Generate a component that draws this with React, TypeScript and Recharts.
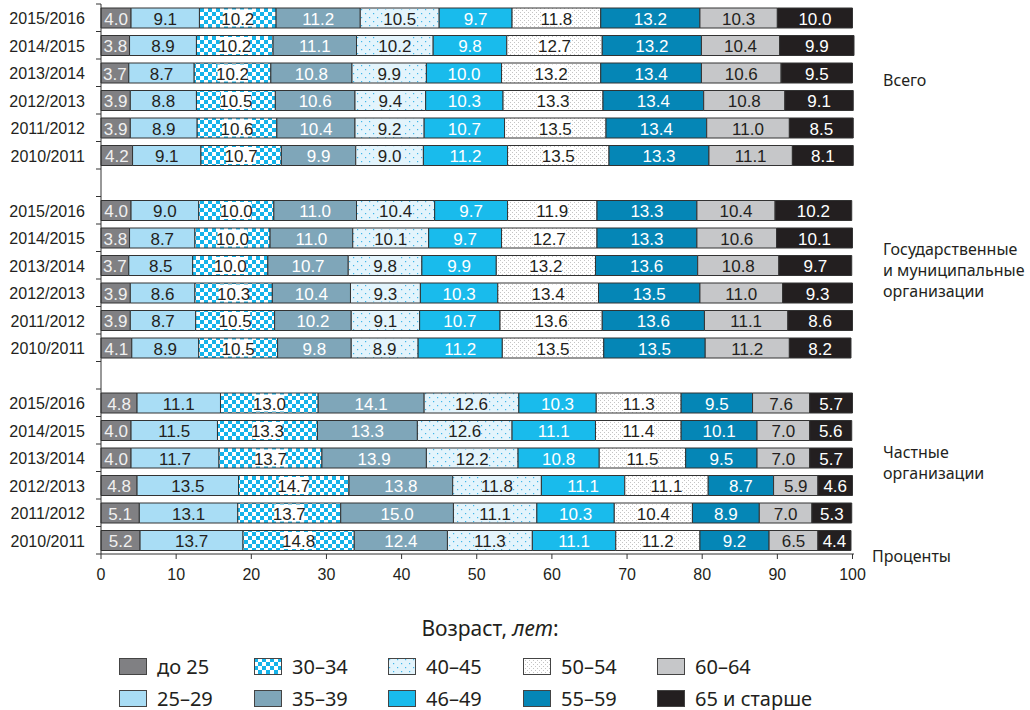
import { Bar, BarChart, LabelList, XAxis, YAxis } from 'recharts';

// Доля преподавателей по возрастным группам, % (сумма по строке = 100)
const years = ['2015/2016', '2014/2015', '2013/2014', '2012/2013', '2011/2012', '2010/2011'];
const ageGroups = ['до 25', '25–29', '30–34', '35–39', '40–45', '46–49', '50–54', '55–59', '60–64', '65 и старше'];

const totalShares = [
  [4.0, 9.1, 10.2, 11.2, 10.5, 9.7, 11.8, 13.2, 10.3, 10.0],
  [3.8, 8.9, 10.2, 11.1, 10.2, 9.8, 12.7, 13.2, 10.4, 9.9],
  [3.7, 8.7, 10.2, 10.8, 9.9, 10.0, 13.2, 13.4, 10.6, 9.5],
  [3.9, 8.8, 10.5, 10.6, 9.4, 10.3, 13.3, 13.4, 10.8, 9.1],
  [3.9, 8.9, 10.6, 10.4, 9.2, 10.7, 13.5, 13.4, 11.0, 8.5],
  [4.2, 9.1, 10.7, 9.9, 9.0, 11.2, 13.5, 13.3, 11.1, 8.1],
];
const publicShares = [
  [4.0, 9.0, 10.0, 11.0, 10.4, 9.7, 11.9, 13.3, 10.4, 10.2],
  [3.8, 8.7, 10.0, 11.0, 10.1, 9.7, 12.7, 13.3, 10.6, 10.1],
  [3.7, 8.5, 10.0, 10.7, 9.8, 9.9, 13.2, 13.6, 10.8, 9.7],
  [3.9, 8.6, 10.3, 10.4, 9.3, 10.3, 13.4, 13.5, 11.0, 9.3],
  [3.9, 8.7, 10.5, 10.2, 9.1, 10.7, 13.6, 13.6, 11.1, 8.6],
  [4.1, 8.9, 10.5, 9.8, 8.9, 11.2, 13.5, 13.5, 11.2, 8.2],
];
const privateShares = [
  [4.8, 11.1, 13.0, 14.1, 12.6, 10.3, 11.3, 9.5, 7.6, 5.7],
  [4.0, 11.5, 13.3, 13.3, 12.6, 11.1, 11.4, 10.1, 7.0, 5.6],
  [4.0, 11.7, 13.7, 13.9, 12.2, 10.8, 11.5, 9.5, 7.0, 5.7],
  [4.8, 13.5, 14.7, 13.8, 11.8, 11.1, 11.1, 8.7, 5.9, 4.6],
  [5.1, 13.1, 13.7, 15.0, 11.1, 10.3, 10.4, 8.9, 7.0, 5.3],
  [5.2, 13.7, 14.8, 12.4, 11.3, 11.1, 11.2, 9.2, 6.5, 4.4],
];
const xTicks = [0, 10, 20, 30, 40, 50, 60, 70, 80, 90, 100];

// one empty row between the three blocks
const rows: Record<string, any>[] = [];
[totalShares, publicShares, privateShares].forEach((block, b) => {
  if (b > 0) rows.push({ key: `gap${b}`, year: '' });
  block.forEach((vals, i) => {
    const row: Record<string, any> = { key: `${b}|${years[i]}`, year: years[i] };
    vals.forEach((v, j) => (row[`s${j}`] = v));
    rows.push(row);
  });
});

const W = 1030;
const H = 710;
const MARGIN = { top: 4, right: 176, left: 0, bottom: 126 };
const X_AXIS_H = 30;
const Y_AXIS_W = 101;
const BAND = (H - MARGIN.top - MARGIN.bottom - X_AXIS_H) / rows.length;

const NUM_FONT = "'Liberation Sans', Arial, sans-serif";
const LABEL_FONT = "'Liberation Sans Narrow', 'Liberation Sans', Arial, sans-serif";
const TEXT_FONT = "'Noto Sans', 'Open Sans', sans-serif";
const INK = '#231f20';

const segStyles: { fill: string; text: string; box?: string }[] = [
  { fill: '#808083', text: '#f0f0f0' },
  { fill: '#a9ddf5', text: INK },
  { fill: 'url(#chk)', text: INK, box: '#ffffff' },
  { fill: '#7fa6b9', text: '#ffffff' },
  { fill: 'url(#dotBlue)', text: INK, box: '#e3f4fc' },
  { fill: '#19bbec', text: '#ffffff' },
  { fill: 'url(#dotGrey)', text: INK, box: '#ffffff' },
  { fill: '#0586b6', text: '#ffffff' },
  { fill: '#c6c7c9', text: INK },
  { fill: INK, text: '#ffffff' },
];

const makeLabel = (idx: number) => (props: any) => {
  const { x, y, width, height, value } = props;
  if (value == null || !width) return null;
  const cx = x + width / 2;
  const st = segStyles[idx];
  return (
    <g>
      {st.box && <rect x={cx - 15} y={y + 1.5} width={30} height={height - 3} fill={st.box} />}
      <text
        x={cx}
        y={y + height / 2 + 1}
        textAnchor="middle"
        dominantBaseline="central"
        fill={st.text}
        fontSize={17}
        fontFamily={LABEL_FONT}
      >
        {Number(value).toFixed(1)}
      </text>
    </g>
  );
};

// tick marks sit on band edges, not centres
const YTick = (props: any) => {
  const { x, y, payload, index } = props;
  const row = rows.find(r => r.key === payload.value);
  const half = BAND / 2;
  return (
    <g>
      <line x1={x - 5} x2={x} y1={y - half} y2={y - half} stroke="#333" />
      {index === rows.length - 1 && <line x1={x - 5} x2={x} y1={y + half} y2={y + half} stroke="#333" />}
      <text x={x - 16} y={y + 1} textAnchor="end" dominantBaseline="central" fill={INK} fontSize={16} fontFamily={NUM_FONT}>
        {row ? row.year : ''}
      </text>
    </g>
  );
};

const Patterns = () => (
  <svg width={0} height={0} style={{ position: 'absolute' }}>
    <defs>
      <pattern id="chk" width={8} height={8} patternUnits="userSpaceOnUse">
        <rect width={8} height={8} fill="#ffffff" />
        <rect width={4} height={4} fill="#14b3ea" />
        <rect x={4} y={4} width={4} height={4} fill="#14b3ea" />
      </pattern>
      <pattern id="dotBlue" width={8} height={8} patternUnits="userSpaceOnUse">
        <rect width={8} height={8} fill="#e3f4fc" />
        <rect x={1} y={1} width={1.2} height={1.2} fill="#3fb6e8" />
        <rect x={5} y={5} width={1.2} height={1.2} fill="#3fb6e8" />
      </pattern>
      <pattern id="dotGrey" width={4} height={4} patternUnits="userSpaceOnUse">
        <rect width={4} height={4} fill="#ffffff" />
        <rect x={0} y={0} width={1} height={1} fill="#c4c4c4" />
        <rect x={2} y={2} width={1} height={1} fill="#c4c4c4" />
      </pattern>
    </defs>
  </svg>
);

const sideLabels = [
  { lines: ['Всего'], left: 883, top: 70 },
  { lines: ['Государственные', 'и муниципальные', 'организации'], left: 883, top: 239 },
  { lines: ['Частные', 'организации'], left: 883, top: 442 },
  { lines: ['Проценты'], left: 872, top: 546 },
];

const legendCols = [119, 254, 388, 523, 657];
const legendRows = [666, 698];

export default function App() {
  return (
    <div style={{ position: 'absolute', left: 0, top: 0, width: W, height: H, background: '#fff' }}>
      <Patterns />
      <BarChart width={W} height={H} data={rows} layout="vertical" margin={MARGIN}>
        <XAxis
          type="number"
          domain={[0, 100]}
          ticks={xTicks}
          interval={0}
          height={X_AXIS_H}
          tickSize={5}
          tickMargin={10}
          axisLine={{ stroke: '#333' }}
          tickLine={{ stroke: '#333' }}
          tick={{ fill: INK, fontSize: 16, fontFamily: NUM_FONT }}
        />
        <YAxis
          type="category"
          dataKey="key"
          width={Y_AXIS_W}
          interval={0}
          tickLine={false}
          tickSize={0}
          tickMargin={0}
          axisLine={{ stroke: '#333' }}
          tick={<YTick />}
        />
        {ageGroups.map((g, i) => (
          <Bar
            key={g}
            dataKey={`s${i}`}
            name={g}
            stackId="all"
            fill={segStyles[i].fill}
            stroke="#333"
            strokeWidth={1}
            barSize={20}
            isAnimationActive={false}
          >
            <LabelList dataKey={`s${i}`} content={makeLabel(i)} />
          </Bar>
        ))}
      </BarChart>

      {sideLabels.map(s => (
        <div
          key={s.lines[0]}
          style={{ position: 'absolute', left: s.left, top: s.top, fontFamily: TEXT_FONT, fontSize: 16, lineHeight: '21px', color: INK, whiteSpace: 'nowrap' }}
        >
          {s.lines.map(l => (
            <div key={l}>{l}</div>
          ))}
        </div>
      ))}

      <div style={{ position: 'absolute', left: 340, width: 300, top: 614, textAlign: 'center', fontFamily: TEXT_FONT, fontSize: 21, lineHeight: '28px', color: INK }}>
        Возраст, <i>лет</i>:
      </div>
      {ageGroups.map((g, i) => {
        const left = legendCols[Math.floor(i / 2)];
        const cy = legendRows[i % 2];
        return (
          <div key={g} style={{ position: 'absolute', left, top: cy - 12, height: 24, display: 'flex', alignItems: 'center', whiteSpace: 'nowrap' }}>
            <svg width={28} height={17} style={{ display: 'block' }}>
              <rect x={0.5} y={0.5} width={27} height={16} fill={segStyles[i].fill} stroke="#444" />
            </svg>
            <span style={{ marginLeft: 10, fontFamily: TEXT_FONT, fontSize: 20, color: INK }}>{g}</span>
          </div>
        );
      })}
    </div>
  );
}
